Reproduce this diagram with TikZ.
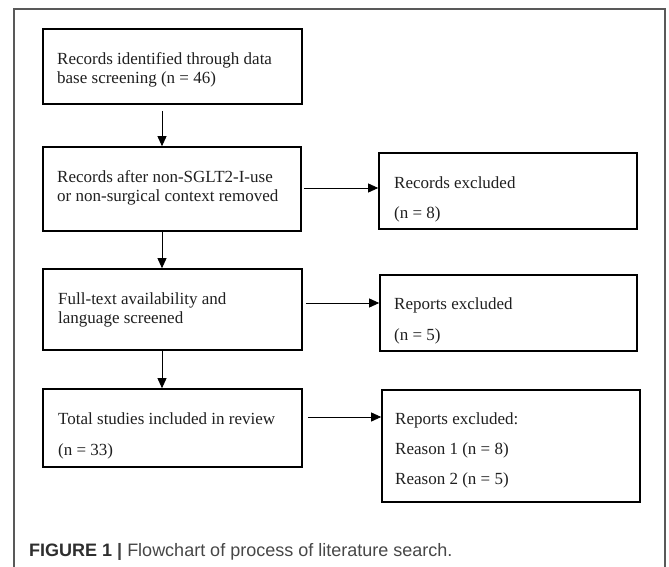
\documentclass[tikz,border=0pt]{standalone}
\usepackage{fontspec}
\setmainfont{Liberation Serif}
\newfontfamily\capfont{Liberation Sans}
\usetikzlibrary{arrows.meta,calc}
\tikzset{
  box/.style={draw=black, line width=1.7pt, rectangle, inner sep=0pt},
  txt/.style={anchor=base west, inner sep=0pt, text=black!88,
              font=\fontsize{17}{19.5}\selectfont},
  arr/.style={draw=black, line width=0.9pt, -{Triangle[length=10pt,width=9pt]}},
  frame/.style={draw=black!65, line width=1.2pt}
}
\begin{document}
\begin{tikzpicture}[x=1pt,y=-1pt]
\useasboundingbox (0,0) rectangle (669,567);
% outer frame
\draw[frame] (14,580) -- (14,9) -- (665,9) -- (665,580);

% boxes
\node[box, minimum width=259pt, minimum height=75pt] (B1) at (172.5,66.5) {};
\node[box, minimum width=258pt, minimum height=84pt] (B2) at (172,189) {};
\node[box, minimum width=258pt, minimum height=76pt] (B2R) at (508,191) {};
\node[box, minimum width=259pt, minimum height=81pt] (B3) at (172.5,309.5) {};
\node[box, minimum width=257pt, minimum height=76pt] (B3R) at (508.5,313) {};
\node[box, minimum width=259pt, minimum height=78pt] (B4) at (172.5,428) {};
\node[box, minimum width=258pt, minimum height=112pt] (B4R) at (511,446) {};

% texts
\node[txt] (t1a) at (57,65) {Records identified through data};
\node[txt] (t1b) at (57,84) {base screening (n = 46)};
\node[txt] (t2a) at (57,182) {Records after non-SGLT2-I-use};
\node[txt] (t2b) at (57,201) {or non-surgical context removed};
\node[txt] (t2ra) at (394,188) {Records excluded};
\node[txt] (t2rb) at (394,218) {(n = 8)};
\node[txt] (t3a) at (58,304) {Full-text availability and};
\node[txt] (t3b) at (58,323) {language screened};
\node[txt] (t3ra) at (394,309) {Reports excluded};
\node[txt] (t3rb) at (394,340) {(n = 5)};
\node[txt] (t4a) at (58,424) {Total studies included in review};
\node[txt] (t4b) at (58,455) {(n = 33)};
\node[txt] (t4ra) at (395,424) {Reports excluded:};
\node[txt] (t4rb) at (395,454) {Reason 1 (n = 8)};
\node[txt] (t4rc) at (395,484) {Reason 2 (n = 5)};

% connector guide coordinates
\coordinate (vx) at (162,0);
\coordinate (h2) at (0,188);
\coordinate (h3) at (0,303);
\coordinate (h4) at (0,417);

% vertical arrows
\draw[arr, shorten <=6pt] (B1.south -| vx) -- (B2.north -| vx);
\draw[arr] (B2.south -| vx) -- (B3.north -| vx);
\draw[arr] (B3.south -| vx) -- (B4.north -| vx);

% horizontal arrows
\draw[arr, shorten <=2pt] (B2.east |- h2) -- (B2R.west |- h2);
\draw[arr, shorten <=3pt] (B3.east |- h3) -- (B3R.west |- h3);
\draw[arr, shorten <=5pt] (B4.east |- h4) -- (B4R.west |- h4);

% caption
\node[anchor=base west, inner sep=0pt, font=\capfont\fontsize{18}{22}\selectfont] (cap) at (29,556)
  {\textcolor{black!82}{\textbf{FIGURE 1}} \textcolor{black!75}{\textbf{|}} \textcolor{black!72}{Flowchart of process of literature search.}};
\end{tikzpicture}
\end{document}
